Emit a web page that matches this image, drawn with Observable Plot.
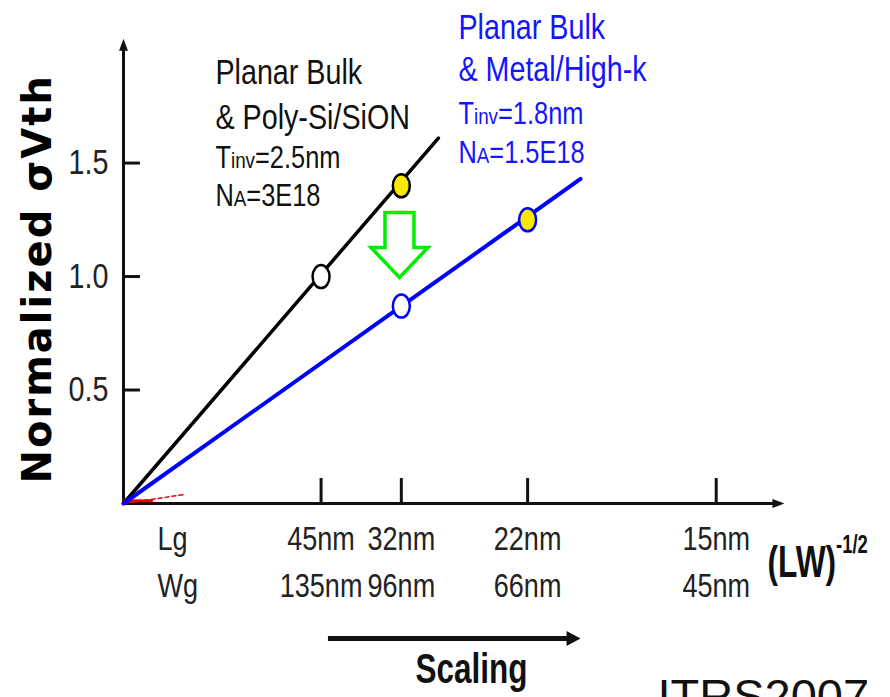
<!DOCTYPE html>
<html><head><meta charset="utf-8">
<script src="https://cdn.jsdelivr.net/npm/d3@7"></script>
<script src="https://cdn.jsdelivr.net/npm/@observablehq/plot@0.6"></script>
<style>html,body{margin:0;padding:0;background:#fff;overflow:hidden}</style>
</head><body><div id="chart"></div>
<script>
// ---- data ----
const nodeLg = [45, 32, 22, 15];               // gate length (nm)
const nodeWg = [135, 96, 66, 45];              // gate width (nm)
const nodeLgLabels = ["45nm", "32nm", "22nm", "15nm"];
const nodeWgLabels = ["135nm", "96nm", "66nm", "45nm"];
const yTicks = [0.5, 1.0, 1.5];
const yTickLabels = ["0.5", "1.0", "1.5"];

// Planar Bulk & Poly-Si/SiON
const polyNodeIdx = [0, 1];                    // 45nm, 32nm
const polySigma = [1.00, 1.40];
const polyFilled = [false, true];
const polyLineX = [0, 20.45];                  // (LW)^-1/2 in 1/um
const polyLineY = [0, 1.61];
// Planar Bulk & Metal/High-k
const hkNodeIdx = [1, 2];                      // 32nm, 22nm
const hkSigma = [0.87, 1.25];
const hkFilled = [false, true];
const hkLineX = [0, 29.68];
const hkLineY = [0, 1.43];
// red dotted traces near origin
const redX = [0, 4.0];
const redY = [0, 0.04];
const redAxisX = [0, 1.9];
const redAxisY = [0.012, 0.012];

const polyNote = ["Planar Bulk", "& Poly-Si/SiON", "T_{inv}=2.5nm", "N_{A}=3E18"];
const hkNote = ["Planar Bulk", "& Metal/High-k", "T_{inv}=1.8nm", "N_{A}=1.5E18"];

// ---- derived ----
const invSqrtLW = (L, W) => 1000 / Math.sqrt(L * W);
const xTickVals = nodeLg.map((L, i) => invSqrtLW(L, nodeWg[i]));
const polyPts = polyNodeIdx.map((k, i) => ({x: xTickVals[k], y: polySigma[i], filled: polyFilled[i]}));
const hkPts = hkNodeIdx.map((k, i) => ({x: xTickVals[k], y: hkSigma[i], filled: hkFilled[i]}));
const polyLine = polyLineX.map((x, i) => ({x, y: polyLineY[i]}));
const hkLine = hkLineX.map((x, i) => ({x, y: hkLineY[i]}));
const redLine = redX.map((x, i) => ({x, y: redY[i]}));
const redAxis = redAxisX.map((x, i) => ({x, y: redAxisY[i]}));

// ---- custom symbols ----
const ellipseSym = {draw(c) {
  const rx = 8.5, ry = 11.5, k = 0.5523;
  c.moveTo(rx, 0);
  c.bezierCurveTo(rx, ry * k, rx * k, ry, 0, ry);
  c.bezierCurveTo(-rx * k, ry, -rx, ry * k, -rx, 0);
  c.bezierCurveTo(-rx, -ry * k, -rx * k, -ry, 0, -ry);
  c.bezierCurveTo(rx * k, -ry, rx, -ry * k, rx, 0);
  c.closePath();
}};
const headRight = (len, half) => ({draw(c) { c.moveTo(0, 0); c.lineTo(-len, -half); c.lineTo(-len, half); c.closePath(); }});
const headUp = (len, half) => ({draw(c) { c.moveTo(0, 0); c.lineTo(-half, len); c.lineTo(half, len); c.closePath(); }});
const hollowDown = {draw(c) {
  c.moveTo(-14.5, -32); c.lineTo(14.5, -32); c.lineTo(14.5, 3); c.lineTo(28.5, 3);
  c.lineTo(0, 33); c.lineTo(-28.5, 3); c.lineTo(-14.5, 3); c.closePath();
}};

const SANS = "'Liberation Sans',Arial,sans-serif";
const XMAX = 42.86, YMAX = 2.04;

function note(lines, x, ys, sizes, color) {
  return lines.map((t, i) => Plot.text([t], {
    x, y: ys[i], text: d => d, textAnchor: "start", lineAnchor: "bottom",
    fontSize: sizes[i], fontFamily: SANS, fill: color
  }));
}

const chart = Plot.plot({
  width: 890, height: 697,
  marginLeft: 123, marginRight: 107, marginTop: 40, marginBottom: 194,
  x: {domain: [0, XMAX], axis: null},
  y: {domain: [0, YMAX], axis: null},
  style: {background: "#fff", overflow: "visible", fontFamily: SANS},
  marks: [
    // axes
    Plot.ruleX([0], {y1: 0, y2: YMAX - 0.03, stroke: "#111", strokeWidth: 3}),
    Plot.ruleY([0], {x1: 0, x2: XMAX - 0.5, stroke: "#111", strokeWidth: 3}),
    Plot.dot([0], {x: 0, y: YMAX + 0.008, symbol: headUp(12, 4.5), fill: "#111", stroke: "none"}),
    Plot.dot([0], {x: XMAX + 0.06, y: 0, symbol: headRight(12, 4.5), fill: "#111", stroke: "none"}),
    Plot.ruleY(yTicks, {x1: 0, x2: 1.1, stroke: "#111", strokeWidth: 3}),
    Plot.text(yTicks, {x: 0, y: d => d, text: (d, i) => yTickLabels[i], dx: -15, textAnchor: "end",
      fontSize: 35, fill: "#222"}),
    Plot.ruleX(xTickVals, {y1: 0, y2: 0.11, stroke: "#111", strokeWidth: 3}),
    Plot.text(xTickVals, {x: d => d, y: -0.207, text: (d, i) => nodeLgLabels[i], lineAnchor: "bottom", fontSize: 33, fill: "#222"}),
    Plot.text(xTickVals, {x: d => d, y: -0.414, text: (d, i) => nodeWgLabels[i], lineAnchor: "bottom", fontSize: 33, fill: "#222"}),
    Plot.text(["Lg"], {x: 2.2, y: -0.207, text: d => d, textAnchor: "start", lineAnchor: "bottom", fontSize: 33, fill: "#222"}),
    Plot.text(["Wg"], {x: 2.2, y: -0.414, text: d => d, textAnchor: "start", lineAnchor: "bottom", fontSize: 33, fill: "#222"}),
    Plot.text(["(LW)^{-1/2}"], {x: 41.82, y: -0.326, text: d => d, textAnchor: "start", lineAnchor: "bottom",
      fontSize: 44, fontWeight: "bold", fill: "#111"}),
    // y label
    Plot.text(["Normalized σVth"], {x: -5.52, y: 0.99, text: d => d, rotate: -90, textAnchor: "middle",
      fontSize: 40, fontWeight: "bold", fontFamily: "DejaVu Sans", fill: "#000"}),
    // series
    Plot.line(redLine, {x: "x", y: "y", stroke: "#e00", strokeWidth: 1.5, strokeDasharray: "4,3"}),
    Plot.line(redAxis, {x: "x", y: "y", stroke: "#e00", strokeWidth: 3, strokeDasharray: "3,2"}),
    Plot.line(polyLine, {x: "x", y: "y", stroke: "#000", strokeWidth: 3.5}),
    Plot.line(hkLine, {x: "x", y: "y", stroke: "#0000ff", strokeWidth: 4}),
    Plot.dot(polyPts, {x: "x", y: "y", symbol: ellipseSym, fill: d => d.filled ? "#f7ea00" : "#fff", stroke: "#000", strokeWidth: 2.5}),
    Plot.dot(hkPts, {x: "x", y: "y", symbol: ellipseSym, fill: d => d.filled ? "#f7ea00" : "#fff", stroke: "#0000ff", strokeWidth: 2.5}),
    // green shift arrow
    Plot.dot([0], {x: xTickVals[1] - 0.12, y: 1.141, symbol: hollowDown, fill: "#fff", stroke: "#00ee00", strokeWidth: 3.5, strokeLinejoin: "miter"}),
    // notes
    ...note(polyNote, 5.97, [1.850, 1.652, 1.480, 1.313], [35, 35, 31, 31], "#111"),
    ...note(hkNote, 21.75, [2.048, 1.863, 1.674, 1.502], [35, 35, 31, 31], "#1414ff"),
    // scaling arrow
    Plot.ruleY([-0.595], {x1: 13.31, x2: 29.0, stroke: "#111", strokeWidth: 5}),
    Plot.dot([0], {x: 29.68, y: -0.595, symbol: headRight(14, 7.5), fill: "#111", stroke: "none"}),
    Plot.text(["Scaling"], {x: 22.6, y: -0.793, text: d => d, lineAnchor: "bottom", fontSize: 42, fontWeight: "bold", fill: "#111"}),
    Plot.text(["ITRS2007"], {x: 34.68, y: -0.92, text: d => d, textAnchor: "start", lineAnchor: "bottom",
      fontSize: 47, fill: "#111"})
  ]
});

// post-process: narrow (condensed) rendering, _{..} smaller, ^{..} superscript
const squeeze = {"(LW)^{-1/2}": 0.72, "Scaling": 0.75, "ITRS2007": 1};
d3.select(chart).selectAll("text").each(function () {
  const s = this.textContent;
  if (s === "Normalized σVth") { this.setAttribute("letter-spacing", "2"); return; }
  const k = s in squeeze ? squeeze[s] : 0.82;
  const tr = this.getAttribute("transform");
  if (tr && k !== 1) this.setAttribute("transform", tr + ` scale(${k},1)`);
  if (!/[_^]\{/.test(s)) return;
  this.textContent = "";
  const re = /([_^])\{([^}]*)\}/g;
  let last = 0, m;
  const add = (txt, type) => {
    if (!txt) return;
    const t = document.createElementNS("http://www.w3.org/2000/svg", "tspan");
    t.textContent = txt;
    if (type === "_") t.style.fontSize = "74%";
    if (type === "^") { t.style.fontSize = "58%"; t.setAttribute("dy", "-0.95em"); }
    this.appendChild(t);
  };
  while ((m = re.exec(s))) { add(s.slice(last, m.index)); add(m[2], m[1]); last = re.lastIndex; }
  add(s.slice(last));
});

document.getElementById("chart").appendChild(chart);
</script></body></html>
